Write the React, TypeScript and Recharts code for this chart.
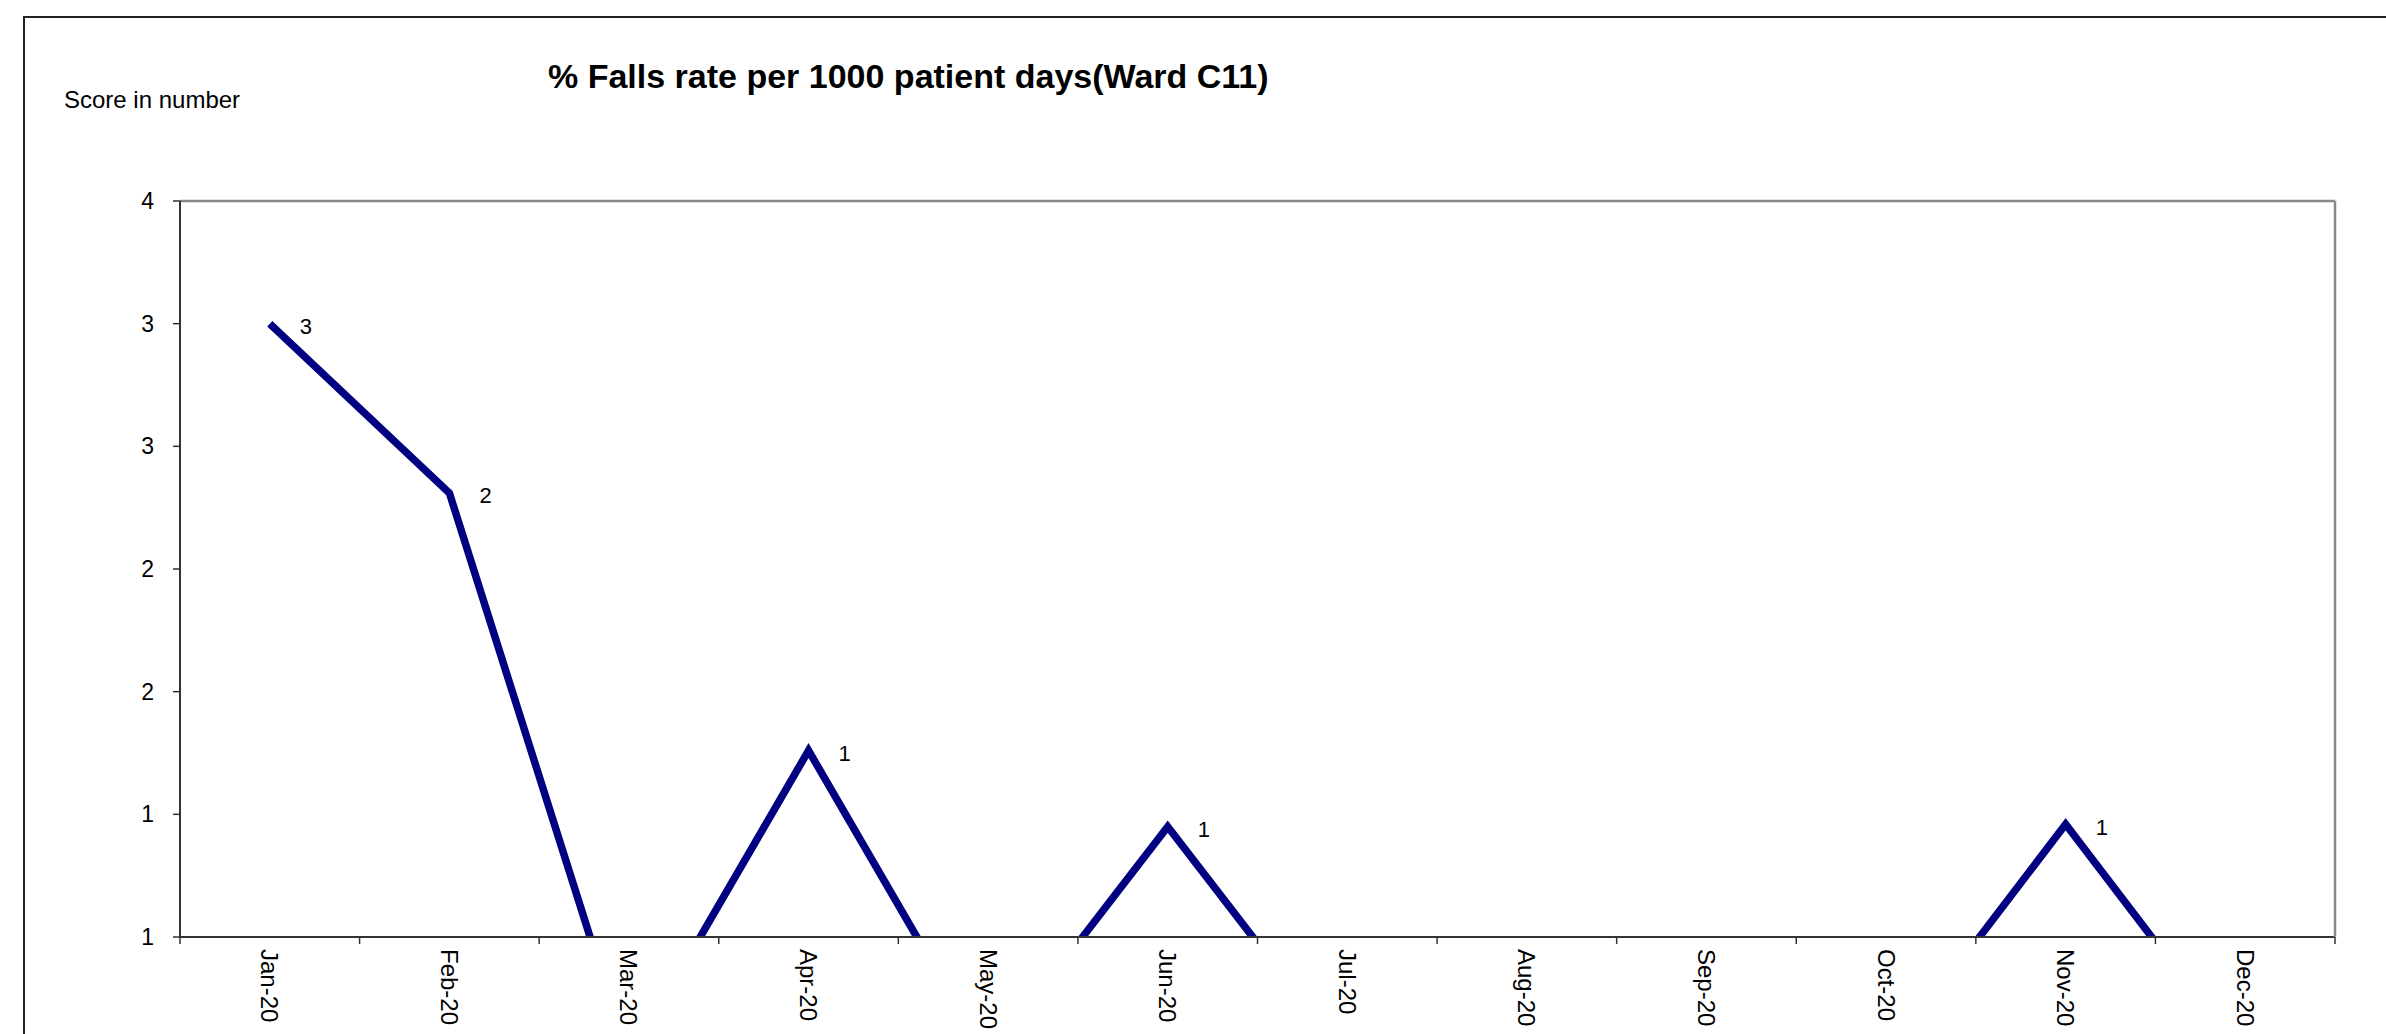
import React from 'react';
import { LineChart, Line, XAxis, YAxis, LabelList } from 'recharts';

const months = [
  'Jan-20', 'Feb-20', 'Mar-20', 'Apr-20', 'May-20', 'Jun-20',
  'Jul-20', 'Aug-20', 'Sep-20', 'Oct-20', 'Nov-20', 'Dec-20'
];
const fallsRate = [3.0, 2.31, 0, 1.26, 0, 0.95, 0, 0, 0, 0, 0.96, 0];
const yTicks = [0.5, 1, 1.5, 2, 2.5, 3, 3.5];

const WIDTH = 2386;
const HEIGHT = 1034;
// top/right axes are 1px wide so they still get drawn (0 size hides them)
const MARGIN = { top: 200, right: 50, left: 100, bottom: 0 };
const Y_AXIS_W = 80;
const X_AXIS_H = 97;
const PLOT_W = WIDTH - MARGIN.left - Y_AXIS_W - MARGIN.right - 1;
const BAND = PLOT_W / months.length;
const FONT = '"Liberation Sans", Arial, sans-serif';

const chartData = months.map((month, i) => ({ month, rate: fallsRate[i] }));

function MonthTick(props: any) {
  const { x, y, payload, index } = props;
  const left = x - BAND / 2;
  const ty = y + 12;
  return (
    <g>
      <line x1={left} y1={y} x2={left} y2={y + 7} stroke="#333" strokeWidth={1.5} />
      {index === months.length - 1 && (
        <line x1={x + BAND / 2} y1={y} x2={x + BAND / 2} y2={y + 7} stroke="#333" strokeWidth={1.5} />
      )}
      <text
        x={x}
        y={ty}
        transform={`rotate(90, ${x}, ${ty})`}
        textAnchor="start"
        dominantBaseline="central"
        fontSize={24}
        fontFamily={FONT}
        fill="#000"
      >
        {payload.value}
      </text>
    </g>
  );
}

function PointLabel(props: any) {
  const { x, y, value } = props;
  // values under the axis minimum are clipped away, so no label either
  if (value == null || value < 0.5) return null;
  return (
    <text x={x + 30} y={y + 3} dominantBaseline="central" fontSize={22} fontFamily={FONT} fill="#000">
      {Math.round(value)}
    </text>
  );
}

export default function App() {
  return (
    <div style={{ position: 'absolute', left: 0, top: 0, width: WIDTH, height: HEIGHT, overflow: 'hidden', background: '#fff' }}>
      <div
        style={{
          position: 'absolute', left: 23, top: 16, width: 2500, height: 1200,
          border: '2px solid #222', boxSizing: 'border-box'
        }}
      />
      <div style={{ position: 'absolute', left: 548, top: 57, fontFamily: FONT, fontSize: 34, fontWeight: 'bold', whiteSpace: 'nowrap', color: '#000' }}>
        % Falls rate per 1000 patient days(Ward C11)
      </div>
      <div style={{ position: 'absolute', left: 64, top: 86, fontFamily: FONT, fontSize: 24, whiteSpace: 'nowrap', color: '#000' }}>
        Score in number
      </div>
      <div style={{ position: 'absolute', left: 0, top: 0 }}>
        <LineChart width={WIDTH} height={HEIGHT} data={chartData} margin={MARGIN}>
          <XAxis
            xAxisId="top"
            orientation="top"
            dataKey="month"
            scale="band"
            height={1}
            tick={false}
            tickLine={false}
            axisLine={{ stroke: '#888', strokeWidth: 2.5 }}
          />
          <XAxis
            dataKey="month"
            scale="band"
            height={X_AXIS_H}
            interval={0}
            tickSize={0}
            tickMargin={0}
            tickLine={false}
            axisLine={{ stroke: '#333', strokeWidth: 2 }}
            tick={<MonthTick />}
          />
          <YAxis
            domain={[0.5, 3.5]}
            ticks={yTicks}
            allowDataOverflow
            interval={0}
            width={Y_AXIS_W}
            tickSize={7}
            tickMargin={19}
            tickFormatter={(v: number) => String(Math.round(v))}
            axisLine={{ stroke: '#333', strokeWidth: 2 }}
            tickLine={{ stroke: '#333', strokeWidth: 1.5 }}
            tick={{ fill: '#000', fontSize: 23, fontFamily: FONT }}
          />
          <YAxis
            yAxisId="right"
            orientation="right"
            domain={[0.5, 3.5]}
            width={1}
            tick={false}
            tickLine={false}
            axisLine={{ stroke: '#888', strokeWidth: 2.5 }}
          />
          <Line
            type="linear"
            dataKey="rate"
            stroke="#000080"
            strokeWidth={7.5}
            dot={false}
            isAnimationActive={false}
          >
            <LabelList dataKey="rate" content={<PointLabel />} />
          </Line>
        </LineChart>
      </div>
    </div>
  );
}
